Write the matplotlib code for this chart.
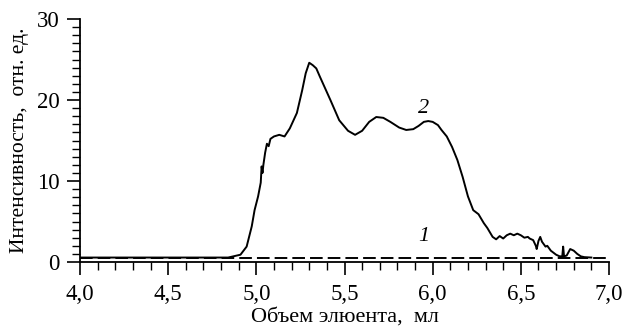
import matplotlib
matplotlib.use("Agg")
import matplotlib.pyplot as plt
from matplotlib.ticker import MultipleLocator

plt.rcParams['font.family'] = ['Liberation Serif', 'DejaVu Serif']

# Curve 2 (sample)
x2 = [4.00, 4.50, 4.84, 4.87, 4.91, 4.945, 4.974, 4.99, 5.01, 5.025, 5.03, 5.035, 5.04, 5.05, 5.06,
      5.07, 5.08, 5.10, 5.13, 5.16, 5.19, 5.23, 5.26, 5.28, 5.30, 5.32, 5.34, 5.36, 5.42,
      5.47, 5.52, 5.56, 5.60, 5.64, 5.68, 5.72, 5.76, 5.81, 5.85, 5.89, 5.92, 5.95,
      5.975, 6.00, 6.03, 6.05, 6.08, 6.11, 6.14, 6.17, 6.20, 6.23, 6.26, 6.29, 6.31,
      6.34, 6.36, 6.38, 6.40, 6.42, 6.44, 6.46, 6.48, 6.50, 6.52, 6.54, 6.55, 6.57,
      6.585, 6.59, 6.60, 6.61, 6.62, 6.64, 6.65, 6.67, 6.70, 6.72, 6.735, 6.74,
      6.745, 6.76, 6.78, 6.80, 6.82, 6.84, 6.86, 6.90]
y2 = [0.55, 0.55, 0.55, 0.7, 0.9, 1.9, 4.4, 6.4, 8.1, 9.8, 11.8, 11.0, 12.0, 13.5, 14.6,
      14.3, 15.2, 15.5, 15.7, 15.5, 16.5, 18.4, 21.2, 23.3, 24.6, 24.3, 23.9, 22.9, 20.0,
      17.5, 16.2, 15.7, 16.2, 17.3, 17.9, 17.8, 17.3, 16.6, 16.3, 16.4, 16.8, 17.3,
      17.4, 17.3, 16.9, 16.3, 15.5, 14.2, 12.6, 10.5, 8.1, 6.4, 5.9, 4.8, 4.2,
      3.1, 2.8, 3.2, 2.9, 3.3, 3.5, 3.3, 3.5, 3.3, 3.0, 3.1, 2.9, 2.7,
      2.0, 1.6, 2.6, 3.1, 2.5, 1.9, 2.0, 1.4, 0.9, 0.7, 0.7, 1.9,
      0.7, 0.8, 1.6, 1.4, 1.0, 0.7, 0.6, 0.55]

# Curve 1 (blank)
x1 = [4.0, 7.0]
y1 = [0.55, 0.55]

x_ticks = [4.0, 4.5, 5.0, 5.5, 6.0, 6.5, 7.0]
x_ticklabels = ["4,0", "4,5", "5,0", "5,5", "6,0", "6,5", "7,0"]
y_ticks = [0, 10, 20, 30]
y_ticklabels = ["0", "10", "20", "30"]

fig = plt.figure(figsize=(6.22, 3.29), dpi=100)
ax = fig.add_axes([80/622, 1 - 262/329, 529/622, 243/329])

ax.plot(x1, y1, color='black', lw=1.4, ls=(0, (6.5, 2.6)))
ax.plot(x2, y2, color='black', lw=1.4)

ax.set_xlim(4.0, 7.0)
ax.set_ylim(0, 30)
ax.spines['top'].set_visible(False)
ax.spines['right'].set_visible(False)
for s in ('left', 'bottom'):
    ax.spines[s].set_linewidth(1.3)

ax.set_xticks(x_ticks)
ax.set_xticklabels(x_ticklabels)
ax.set_yticks(y_ticks)
ax.set_yticklabels(y_ticklabels)
ax.xaxis.set_minor_locator(MultipleLocator(0.1))
ax.yaxis.set_minor_locator(MultipleLocator(1))
ax.tick_params(which='major', length=9.5, width=1.2, labelsize=16.5)
ax.tick_params(axis='x', which='major', pad=6)
ax.tick_params(axis='y', which='major', pad=5)
ax.tick_params(which='minor', length=6, width=1.0)

ax.set_xlabel("Объем элюента,  мл", fontsize=16, labelpad=2)
ax.set_ylabel("Интенсивность,  отн. ед.", fontsize=15.5, labelpad=6)

ax.text(5.95, 18.9, "2", fontsize=16, style='italic', ha='center', va='center')
ax.text(5.95, 3.1, "1", fontsize=16, style='italic', ha='center', va='center')

fig.savefig("out.png", dpi=100)
